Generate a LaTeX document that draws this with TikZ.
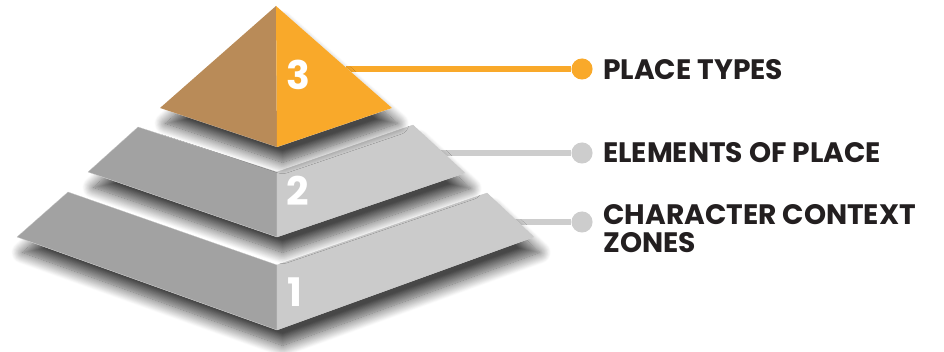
\documentclass[tikz,border=0pt]{standalone}
\usepackage{fontspec}
\setmainfont{Poppins}
\usetikzlibrary{shadows.blur}
\definecolor{topright}{HTML}{F9A92A}
\definecolor{topleft}{HTML}{B98B58}
\definecolor{greyright}{HTML}{CBCBCB}
\definecolor{greyleft}{HTML}{A2A2A2}
\definecolor{leadergrey}{HTML}{CDCDCD}
\definecolor{textdark}{HTML}{231F20}

\begin{document}
\begin{tikzpicture}[
  x=0.025cm, y=-0.025cm,
  face/.style={draw=black!22, line width=0.2pt, line join=round},
  tiershadow/.style={blur shadow={shadow xshift=4pt, shadow yshift=-11pt,
      shadow blur radius=8pt, shadow blur steps=16, shadow opacity=72}},
  leader/.style={line width=4.2pt},
  leaderdot/.style={circle, inner sep=0pt, minimum size=15pt},
  tiertext/.style={anchor=base west, inner sep=0pt, align=left, text=textdark,
      font=\bfseries\fontsize{20}{20.5}\selectfont},
  tiernum/.style={anchor=base west, inner sep=0pt, text=white,
      font=\bfseries\fontsize{28}{28}\selectfont}
]
\useasboundingbox (0,0) rectangle (944,352);

% leader lines (behind the pyramid)
\coordinate (e3) at (346,69);
\coordinate (e2) at (440,153);
\coordinate (e1) at (515,222);
\node[leaderdot, fill=topright]   (d3) at (582,69)  {};
\node[leaderdot, fill=leadergrey] (d2) at (582,153) {};
\node[leaderdot, fill=leadergrey] (d1) at (582,222) {};
\draw[leader, topright]   (e3) -- (d3);
\draw[leader, leadergrey] (e2) -- (d2);
\draw[leader, leadergrey] (e1) -- (d1);

% tier 1
\fill[white, tiershadow] (68,192) -- (277,265) -- (487,193) -- (534,237)
  -- (277,330) -- (17,237) -- cycle;
\filldraw[face, fill=greyleft]  (68,192) -- (277,265) -- (277,330) -- (17,237) -- cycle;
\filldraw[face, fill=greyright] (277,265) -- (487,193) -- (534,237) -- (277,330) -- cycle;
\node[tiernum] (n1) at (287,307) {1};

% tier 2
\fill[white, tiershadow] (138,127) -- (277,172) -- (413,125) -- (465,173)
  -- (277,237) -- (88,172) -- cycle;
\filldraw[face, fill=greyleft]  (138,127) -- (277,172) -- (277,237) -- (88,172) -- cycle;
\filldraw[face, fill=greyright] (277,172) -- (413,125) -- (465,173) -- (277,237) -- cycle;
\node[tiernum] (n2) at (286,206) {2};

% tier 3
\fill[white, tiershadow] (276,6) -- (392,108) -- (277,147) -- (160,108) -- cycle;
\fill[topleft]  (276,6) -- (277,147) -- (160,108) -- cycle;
\fill[topright] (276,6) -- (392,108) -- (277,147) -- cycle;
\node[tiernum] (n3) at (286,90) {3};

% labels
\node[tiertext] (l3) at (603,80)  {PLACE TYPES};
\node[tiertext] (l2) at (603,163) {ELEMENTS OF PLACE};
\node[tiertext] (l1) at (603,253) {CHARACTER CONTEXT\\ZONES};
\end{tikzpicture}
\end{document}
